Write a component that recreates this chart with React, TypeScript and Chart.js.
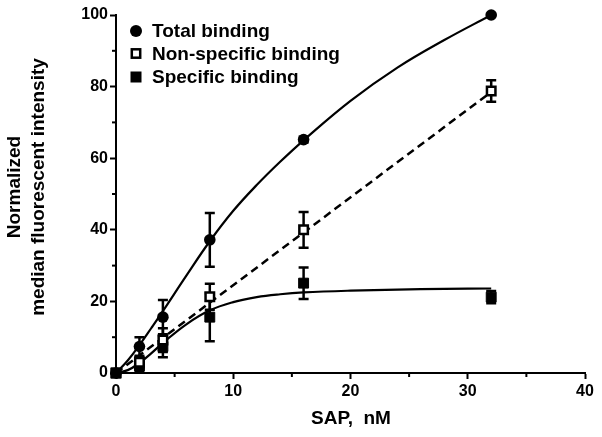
import { useEffect, useRef } from "react";
import { Chart, registerables } from "chart.js";

Chart.register(...registerables);

const FONT = '"Liberation Sans", Arial, Helvetica, sans-serif';

// Measured points (SAP concentration, nM)
const concentrations = [0, 2, 4, 8, 16, 32];
const totalMean = [0, 7.4, 15.6, 37.2, 65.2, 100];
const totalErr = [0, 2.6, 4.8, 7.5, 0.8, 0];
const nonSpecMean = [0, 3, 9.2, 21.3, 40, 78.8];
const nonSpecErr = [0, 1.5, 3.3, 3.6, 5, 3];
const specMean = [0, 2, 7.4, 15.6, 25.1, 21.2];
const specErr = [0, 1.5, 3, 6.7, 4.4, 1.7];

// Fitted curves
const fitX = [0, 1, 2, 3, 4, 6, 8, 10, 12, 14, 16, 20, 24, 28, 32];
const totalFit = [0, 3.5, 7.8, 12.5, 17.3, 27.2, 36.8, 45.3, 52.5, 59, 65, 76, 85.3, 93, 100];
const specFit = [0, 0.8, 2.8, 5.5, 8.4, 13.6, 17.5, 19.8, 21.2, 22, 22.5, 23, 23.3, 23.5, 23.6];
const nonSpecFitX = [0, 32];
const nonSpecFit = [0, 78.5];

const xTicks = [0, 10, 20, 30, 40];
const yTicks = [0, 20, 40, 60, 80, 100];
const xMinorTicks = [5, 15, 25, 35];
const yMinorTicks = [10, 30, 50, 70, 90];

const legendLabels = ["Total binding", "Non-specific binding", "Specific binding"];
const xTitle = "SAP,  nM";
const yTitle = ["Normalized", "median fluorescent intensity"];

const toXY = (xs: number[], ys: number[]) => xs.map((x, i) => ({ x, y: ys[i] }));

export default function App() {
  const ref = useRef<HTMLCanvasElement>(null);

  useEffect(() => {
    document.body.style.margin = "0";
    const errs = [totalErr, nonSpecErr, specErr];

    const errorBars = {
      id: "errorBars",
      beforeDatasetsDraw(chart: any) {
        const ctx = chart.ctx;
        const xs = chart.scales.x;
        const ys = chart.scales.y;
        ctx.save();
        ctx.strokeStyle = "#000";
        ctx.lineWidth = 2.5;
        [totalMean, nonSpecMean, specMean].forEach((means, d) => {
          means.forEach((m, i) => {
            const e = errs[d][i];
            if (!e) return;
            const px = xs.getPixelForValue(concentrations[i]);
            const top = ys.getPixelForValue(m + e);
            const bot = ys.getPixelForValue(m - e);
            ctx.beginPath();
            ctx.moveTo(px, top);
            ctx.lineTo(px, bot);
            ctx.moveTo(px - 5, top);
            ctx.lineTo(px + 5, top);
            ctx.moveTo(px - 5, bot);
            ctx.lineTo(px + 5, bot);
            ctx.stroke();
          });
        });
        ctx.restore();
      },
    };

    const extras = {
      id: "extras",
      afterDraw(chart: any) {
        const ctx = chart.ctx;
        const xs = chart.scales.x;
        const ys = chart.scales.y;
        const area = chart.chartArea;
        ctx.save();
        ctx.strokeStyle = "#000";
        ctx.lineWidth = 2;
        yMinorTicks.forEach((v) => {
          const py = ys.getPixelForValue(v);
          ctx.beginPath();
          ctx.moveTo(area.left - 4, py);
          ctx.lineTo(area.left, py);
          ctx.stroke();
        });
        xMinorTicks.forEach((v) => {
          const px = xs.getPixelForValue(v);
          ctx.beginPath();
          ctx.moveTo(px, area.bottom);
          ctx.lineTo(px, area.bottom + 4);
          ctx.stroke();
        });

        // Legend
        ctx.fillStyle = "#000";
        ctx.font = `bold 19px ${FONT}`;
        ctx.textBaseline = "middle";
        ctx.textAlign = "left";
        const lx = 136;
        const rows = [31, 53.5, 77];
        ctx.beginPath();
        ctx.arc(lx, rows[0], 6, 0, Math.PI * 2);
        ctx.fill();
        ctx.lineWidth = 2.5;
        ctx.strokeRect(lx - 4.2, rows[1] - 4.2, 8.4, 8.4);
        ctx.fillRect(lx - 5.5, rows[2] - 5.5, 11, 11);
        legendLabels.forEach((t, i) => ctx.fillText(t, 152, rows[i] + 1));

        // Titles
        ctx.font = `bold 19px ${FONT}`;
        ctx.textAlign = "center";
        ctx.fillText(xTitle, 351, 419);
        ctx.translate(0, 187);
        ctx.rotate(-Math.PI / 2);
        ctx.fillText(yTitle[0], 0, 15);
        ctx.fillText(yTitle[1], 0, 39);
        ctx.restore();
      },
    };

    const tickFont = { family: FONT, size: 16, weight: "bold" as const };

    const chart = new Chart(ref.current!, {
      type: "scatter",
      data: {
        datasets: [
          {
            label: legendLabels[0],
            data: toXY(concentrations, totalMean),
            pointStyle: "circle",
            pointRadius: 5.8,
            backgroundColor: "#000",
            borderColor: "#000",
            borderWidth: 0,
            showLine: false,
            clip: false,
          },
          {
            label: legendLabels[1],
            data: toXY(concentrations, nonSpecMean),
            pointStyle: "rect",
            pointRadius: 6,
            backgroundColor: "#fff",
            borderColor: "#000",
            borderWidth: 2.5,
            showLine: false,
            clip: false,
          },
          {
            label: legendLabels[2],
            data: toXY(concentrations, specMean),
            pointStyle: "rect",
            pointRadius: 7,
            backgroundColor: "#000",
            borderColor: "#000",
            borderWidth: 1,
            showLine: false,
            clip: false,
          },
          {
            type: "line",
            label: "Total fit",
            data: toXY(fitX, totalFit),
            borderColor: "#000",
            borderWidth: 2.2,
            pointRadius: 0,
            tension: 0.4,
            fill: false,
          },
          {
            type: "line",
            label: "Non-specific fit",
            data: toXY(nonSpecFitX, nonSpecFit),
            borderColor: "#000",
            borderWidth: 2.5,
            borderDash: [8, 5],
            pointRadius: 0,
            fill: false,
          },
          {
            type: "line",
            label: "Specific fit",
            data: toXY(fitX, specFit),
            borderColor: "#000",
            borderWidth: 2.2,
            pointRadius: 0,
            tension: 0.4,
            fill: false,
          },
        ] as any,
      },
      options: {
        responsive: false,
        animation: false,
        devicePixelRatio: 1,
        layout: { padding: { top: 15, right: 17, left: 0, bottom: 0 } },
        plugins: { legend: { display: false }, tooltip: { enabled: false } },
        scales: {
          x: {
            type: "linear",
            min: 0,
            max: 40,
            afterFit: (s: any) => {
              s.height = 64;
            },
            afterBuildTicks: (s: any) => {
              s.ticks = xTicks.map((v) => ({ value: v }));
            },
            ticks: { font: tickFont, color: "#000", padding: 3 },
            grid: { drawOnChartArea: false, tickLength: 6, tickWidth: 2, tickColor: "#000" },
            border: { display: true, width: 2, color: "#000" },
          },
          y: {
            type: "linear",
            min: 0,
            max: 100,
            afterFit: (s: any) => {
              s.width = 116;
            },
            afterBuildTicks: (s: any) => {
              s.ticks = yTicks.map((v) => ({ value: v }));
            },
            ticks: { font: tickFont, color: "#000", padding: 2 },
            grid: { drawOnChartArea: false, tickLength: 6, tickWidth: 2, tickColor: "#000" },
            border: { display: true, width: 2, color: "#000" },
          },
        },
      },
      plugins: [errorBars, extras],
    });
    return () => chart.destroy();
  }, []);

  return (
    <div style={{ width: 602, height: 437, position: "relative", background: "#fff" }}>
      <canvas ref={ref} width={602} height={437} />
    </div>
  );
}
